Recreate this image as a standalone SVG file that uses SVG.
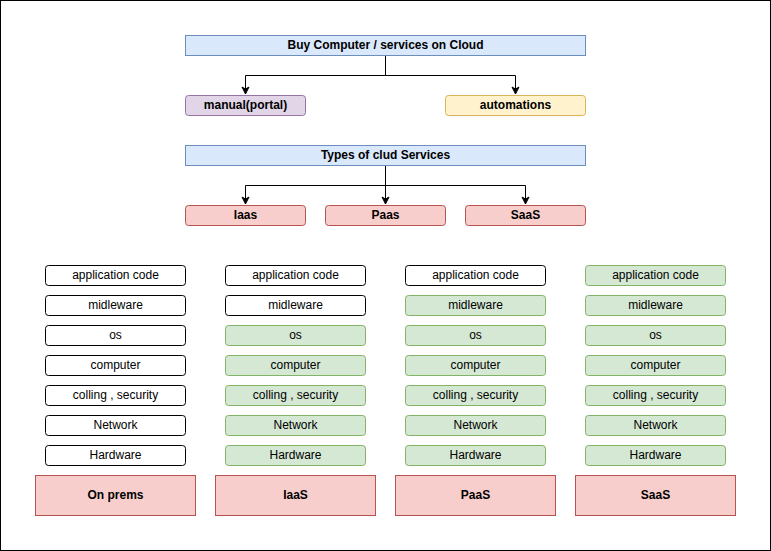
<svg xmlns="http://www.w3.org/2000/svg" width="771" height="551" viewBox="0 0 771 551">
<defs>
<marker id="arr" markerWidth="10" markerHeight="10" refX="8" refY="5" orient="auto" markerUnits="userSpaceOnUse">
<path d="M1,1.5 L8,5 L1,8.5 L3,5 Z" fill="#000" stroke="#000" stroke-width="1"/>
</marker>
<style>
text{font-family:"Liberation Sans",Arial,sans-serif;font-size:12px;fill:#000;text-anchor:middle;dominant-baseline:central;transform:translate(0px,-1px)}
.b{font-weight:bold}
.blue{fill:#dae8fc;stroke:#6c8ebf}
.purple{fill:#e1d5e7;stroke:#9673a6}
.yellow{fill:#fff2cc;stroke:#d6b656}
.red{fill:#f8cecc;stroke:#b85450}
.green{fill:#d5e8d4;stroke:#82b366}
.white{fill:#fff;stroke:#000}
.conn{fill:none;stroke:#000;stroke-width:1}
</style>
</defs>
<rect x="0.5" y="0.5" width="770" height="550" fill="#fff" stroke="#000"/>
<g id="connectors">
<path class="conn" d="M385.5,55.5 V75.5 H245.5 V94" marker-end="url(#arr)"/>
<path class="conn" d="M385.5,75.5 H515.5 V94" marker-end="url(#arr)"/>
<path class="conn" d="M385.5,165.5 V185.5 H245.5 V204" marker-end="url(#arr)"/>
<path class="conn" d="M385.5,165.5 V204" marker-end="url(#arr)"/>
<path class="conn" d="M385.5,185.5 H525.5 V204" marker-end="url(#arr)"/>
</g>
<g id="buy"><rect class="blue" x="185.5" y="35.5" width="400" height="20"/><text class="b" x="385.5" y="45.5">Buy Computer / services on Cloud</text></g>
<g id="manual"><rect class="purple" x="185.5" y="95.5" width="120" height="20" rx="3"/><text class="b" x="245.5" y="105.5">manual(portal)</text></g>
<g id="automations"><rect class="yellow" x="445.5" y="95.5" width="140" height="20" rx="3"/><text class="b" x="515.5" y="105.5">automations</text></g>
<g id="types"><rect class="blue" x="185.5" y="145.5" width="400" height="20"/><text class="b" x="385.5" y="155.5">Types of clud Services</text></g>
<g id="iaas-t"><rect class="red" x="185.5" y="205.5" width="120" height="20" rx="3"/><text class="b" x="245.5" y="215.5">Iaas</text></g>
<g id="paas-t"><rect class="red" x="325.5" y="205.5" width="120" height="20" rx="3"/><text class="b" x="385.5" y="215.5">Paas</text></g>
<g id="saas-t"><rect class="red" x="465.5" y="205.5" width="120" height="20" rx="3"/><text class="b" x="525.5" y="215.5">SaaS</text></g>

<g id="c1">
<rect class="white" x="45.5" y="265.5" width="140" height="20" rx="3"/><text x="115.5" y="275.5">application code</text>
<rect class="white" x="45.5" y="295.5" width="140" height="20" rx="3"/><text x="115.5" y="305.5">midleware</text>
<rect class="white" x="45.5" y="325.5" width="140" height="20" rx="3"/><text x="115.5" y="335.5">os</text>
<rect class="white" x="45.5" y="355.5" width="140" height="20" rx="3"/><text x="115.5" y="365.5">computer</text>
<rect class="white" x="45.5" y="385.5" width="140" height="20" rx="3"/><text x="115.5" y="395.5">colling , security</text>
<rect class="white" x="45.5" y="415.5" width="140" height="20" rx="3"/><text x="115.5" y="425.5">Network</text>
<rect class="white" x="45.5" y="445.5" width="140" height="20" rx="3"/><text x="115.5" y="455.5">Hardware</text>
<rect class="red" x="35.5" y="475.5" width="160" height="40"/><text class="b" x="115.5" y="495.5">On prems</text>
</g>
<g id="c2">
<rect class="white" x="225.5" y="265.5" width="140" height="20" rx="3"/><text x="295.5" y="275.5">application code</text>
<rect class="white" x="225.5" y="295.5" width="140" height="20" rx="3"/><text x="295.5" y="305.5">midleware</text>
<rect class="green" x="225.5" y="325.5" width="140" height="20" rx="3"/><text x="295.5" y="335.5">os</text>
<rect class="green" x="225.5" y="355.5" width="140" height="20" rx="3"/><text x="295.5" y="365.5">computer</text>
<rect class="green" x="225.5" y="385.5" width="140" height="20" rx="3"/><text x="295.5" y="395.5">colling , security</text>
<rect class="green" x="225.5" y="415.5" width="140" height="20" rx="3"/><text x="295.5" y="425.5">Network</text>
<rect class="green" x="225.5" y="445.5" width="140" height="20" rx="3"/><text x="295.5" y="455.5">Hardware</text>
<rect class="red" x="215.5" y="475.5" width="160" height="40"/><text class="b" x="295.5" y="495.5">IaaS</text>
</g>
<g id="c3">
<rect class="white" x="405.5" y="265.5" width="140" height="20" rx="3"/><text x="475.5" y="275.5">application code</text>
<rect class="green" x="405.5" y="295.5" width="140" height="20" rx="3"/><text x="475.5" y="305.5">midleware</text>
<rect class="green" x="405.5" y="325.5" width="140" height="20" rx="3"/><text x="475.5" y="335.5">os</text>
<rect class="green" x="405.5" y="355.5" width="140" height="20" rx="3"/><text x="475.5" y="365.5">computer</text>
<rect class="green" x="405.5" y="385.5" width="140" height="20" rx="3"/><text x="475.5" y="395.5">colling , security</text>
<rect class="green" x="405.5" y="415.5" width="140" height="20" rx="3"/><text x="475.5" y="425.5">Network</text>
<rect class="green" x="405.5" y="445.5" width="140" height="20" rx="3"/><text x="475.5" y="455.5">Hardware</text>
<rect class="red" x="395.5" y="475.5" width="160" height="40"/><text class="b" x="475.5" y="495.5">PaaS</text>
</g>
<g id="c4">
<rect class="green" x="585.5" y="265.5" width="140" height="20" rx="3"/><text x="655.5" y="275.5">application code</text>
<rect class="green" x="585.5" y="295.5" width="140" height="20" rx="3"/><text x="655.5" y="305.5">midleware</text>
<rect class="green" x="585.5" y="325.5" width="140" height="20" rx="3"/><text x="655.5" y="335.5">os</text>
<rect class="green" x="585.5" y="355.5" width="140" height="20" rx="3"/><text x="655.5" y="365.5">computer</text>
<rect class="green" x="585.5" y="385.5" width="140" height="20" rx="3"/><text x="655.5" y="395.5">colling , security</text>
<rect class="green" x="585.5" y="415.5" width="140" height="20" rx="3"/><text x="655.5" y="425.5">Network</text>
<rect class="green" x="585.5" y="445.5" width="140" height="20" rx="3"/><text x="655.5" y="455.5">Hardware</text>
<rect class="red" x="575.5" y="475.5" width="160" height="40"/><text class="b" x="655.5" y="495.5">SaaS</text>
</g>
</svg>
